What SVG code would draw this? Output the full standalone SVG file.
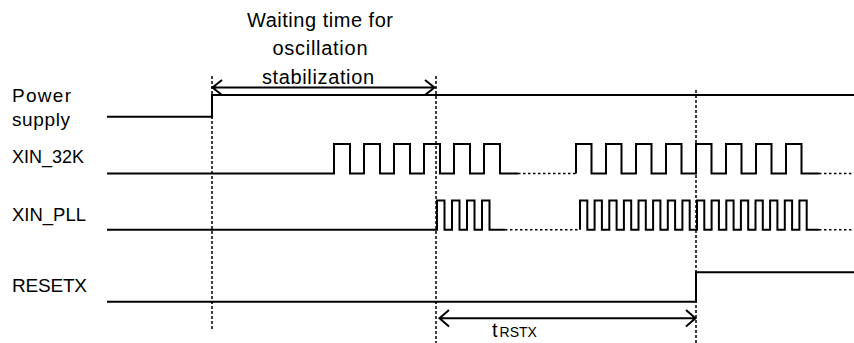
<svg xmlns="http://www.w3.org/2000/svg" width="854" height="343" viewBox="0 0 854 343">
<style>
.lbl{font-family:"Liberation Sans",Arial,sans-serif;font-size:19px;fill:#000}
.ann{font-family:"Liberation Sans",Arial,sans-serif;font-size:20px;fill:#000}
.sig{fill:none;stroke:#000;stroke-width:2}
.dot{fill:none;stroke:#000;stroke-width:1.6;stroke-dasharray:2.5,2.5}
.vdash{fill:none;stroke:#000;stroke-width:1.5;stroke-dasharray:3,2}
.arr{fill:none;stroke:#000;stroke-width:2}
</style>
<rect width="854" height="343" fill="#fff"/>
<g id="labels">
<text class="lbl" x="12" y="102" textLength="59" lengthAdjust="spacing">Power</text>
<text class="lbl" x="12" y="126" textLength="58" lengthAdjust="spacing">supply</text>
<text class="lbl" x="12" y="163" textLength="72" lengthAdjust="spacingAndGlyphs">XIN_32K</text>
<text class="lbl" x="12" y="221" textLength="74" lengthAdjust="spacingAndGlyphs">XIN_PLL</text>
<text class="lbl" x="12" y="292" textLength="75" lengthAdjust="spacing">RESETX</text>
</g>
<g id="power-supply">
<path class="sig" d="M107,116.7 H212 V95 H854"/>
</g>
<g id="xin-32k">
<path class="sig" d="M107,173.5 H334 V144 H350 V173.5 H364 V144 H380 V173.5 H394 V144 H410 V173.5 H424 V144 H440 V173.5 H454 V144 H470 V173.5 H484 V144 H500 V173.5 H518"/>
<path class="dot" d="M518,173.5 H576"/>
<path class="sig" d="M576,173.5 V144 H591.5 V173.5 H606 V144 H621.5 V173.5 H636 V144 H651.5 V173.5 H666 V144 H681.5 V173.5 H696 V144 H711.5 V173.5 H726 V144 H741.5 V173.5 H756 V144 H771.5 V173.5 H786 V144 H801.5 V173.5 H819"/>
<path class="dot" d="M819,173.5 H854"/>
</g>
<g id="xin-pll">
<path class="sig" d="M107,229.7 H437 V200.5 H444.5 V229.7 H452 V200.5 H459.5 V229.7 H467 V200.5 H474.5 V229.7 H482 V200.5 H489.5 V229.7 H505"/>
<path class="dot" d="M505,229.7 H580"/>
<path class="sig" d="M580,229.7 V200.5 H587.3 V229.7 H594.6 V200.5 H601.9 V229.7 H609.3 V200.5 H616.6 V229.7 H623.9 V200.5 H631.2 V229.7 H638.5 V200.5 H645.8 V229.7 H653.1 V200.5 H660.4 V229.7 H667.8 V200.5 H675.1 V229.7 H682.4 V200.5 H689.7 V229.7 H697 V200.5 H704.3 V229.7 H711.6 V200.5 H718.9 V229.7 H726.3 V200.5 H733.6 V229.7 H740.9 V200.5 H748.2 V229.7 H755.5 V200.5 H762.8 V229.7 H770.1 V200.5 H777.4 V229.7 H784.8 V200.5 H792.1 V229.7 H799.4 V200.5 H806.7 V229.7 H819"/>
<path class="dot" d="M819,229.7 H854"/>
</g>
<g id="resetx">
<path class="sig" d="M107,301.7 H696 V272.3 H854"/>
</g>
<g id="connectors">
<path class="vdash" d="M212,76 V330"/>
<path class="vdash" d="M436,76 V343"/>
<path class="vdash" d="M696,90 V343"/>
<path class="arr" d="M212,87.5 H435 M222,80 L212.5,87.5 L222,95 M425,80 L434.5,87.5 L425,95"/>
<path class="arr" d="M439,318.3 H696 M449,310 L439.5,318.3 L449,326.6 M686,310 L695.5,318.3 L686,326.6"/>
</g>
<g id="annotations">
<text class="ann" x="320" y="27" text-anchor="middle" textLength="146" lengthAdjust="spacing">Waiting time for</text>
<text class="ann" x="320" y="55" text-anchor="middle" textLength="95" lengthAdjust="spacing">oscillation</text>
<text class="ann" x="318" y="84" text-anchor="middle" textLength="112" lengthAdjust="spacing">stabilization</text>
<text x="492" y="337" font-family="Liberation Sans,Arial,sans-serif" fill="#000"><tspan font-size="20">t</tspan><tspan font-size="14" dx="2">RSTX</tspan></text>
</g>
</svg>
